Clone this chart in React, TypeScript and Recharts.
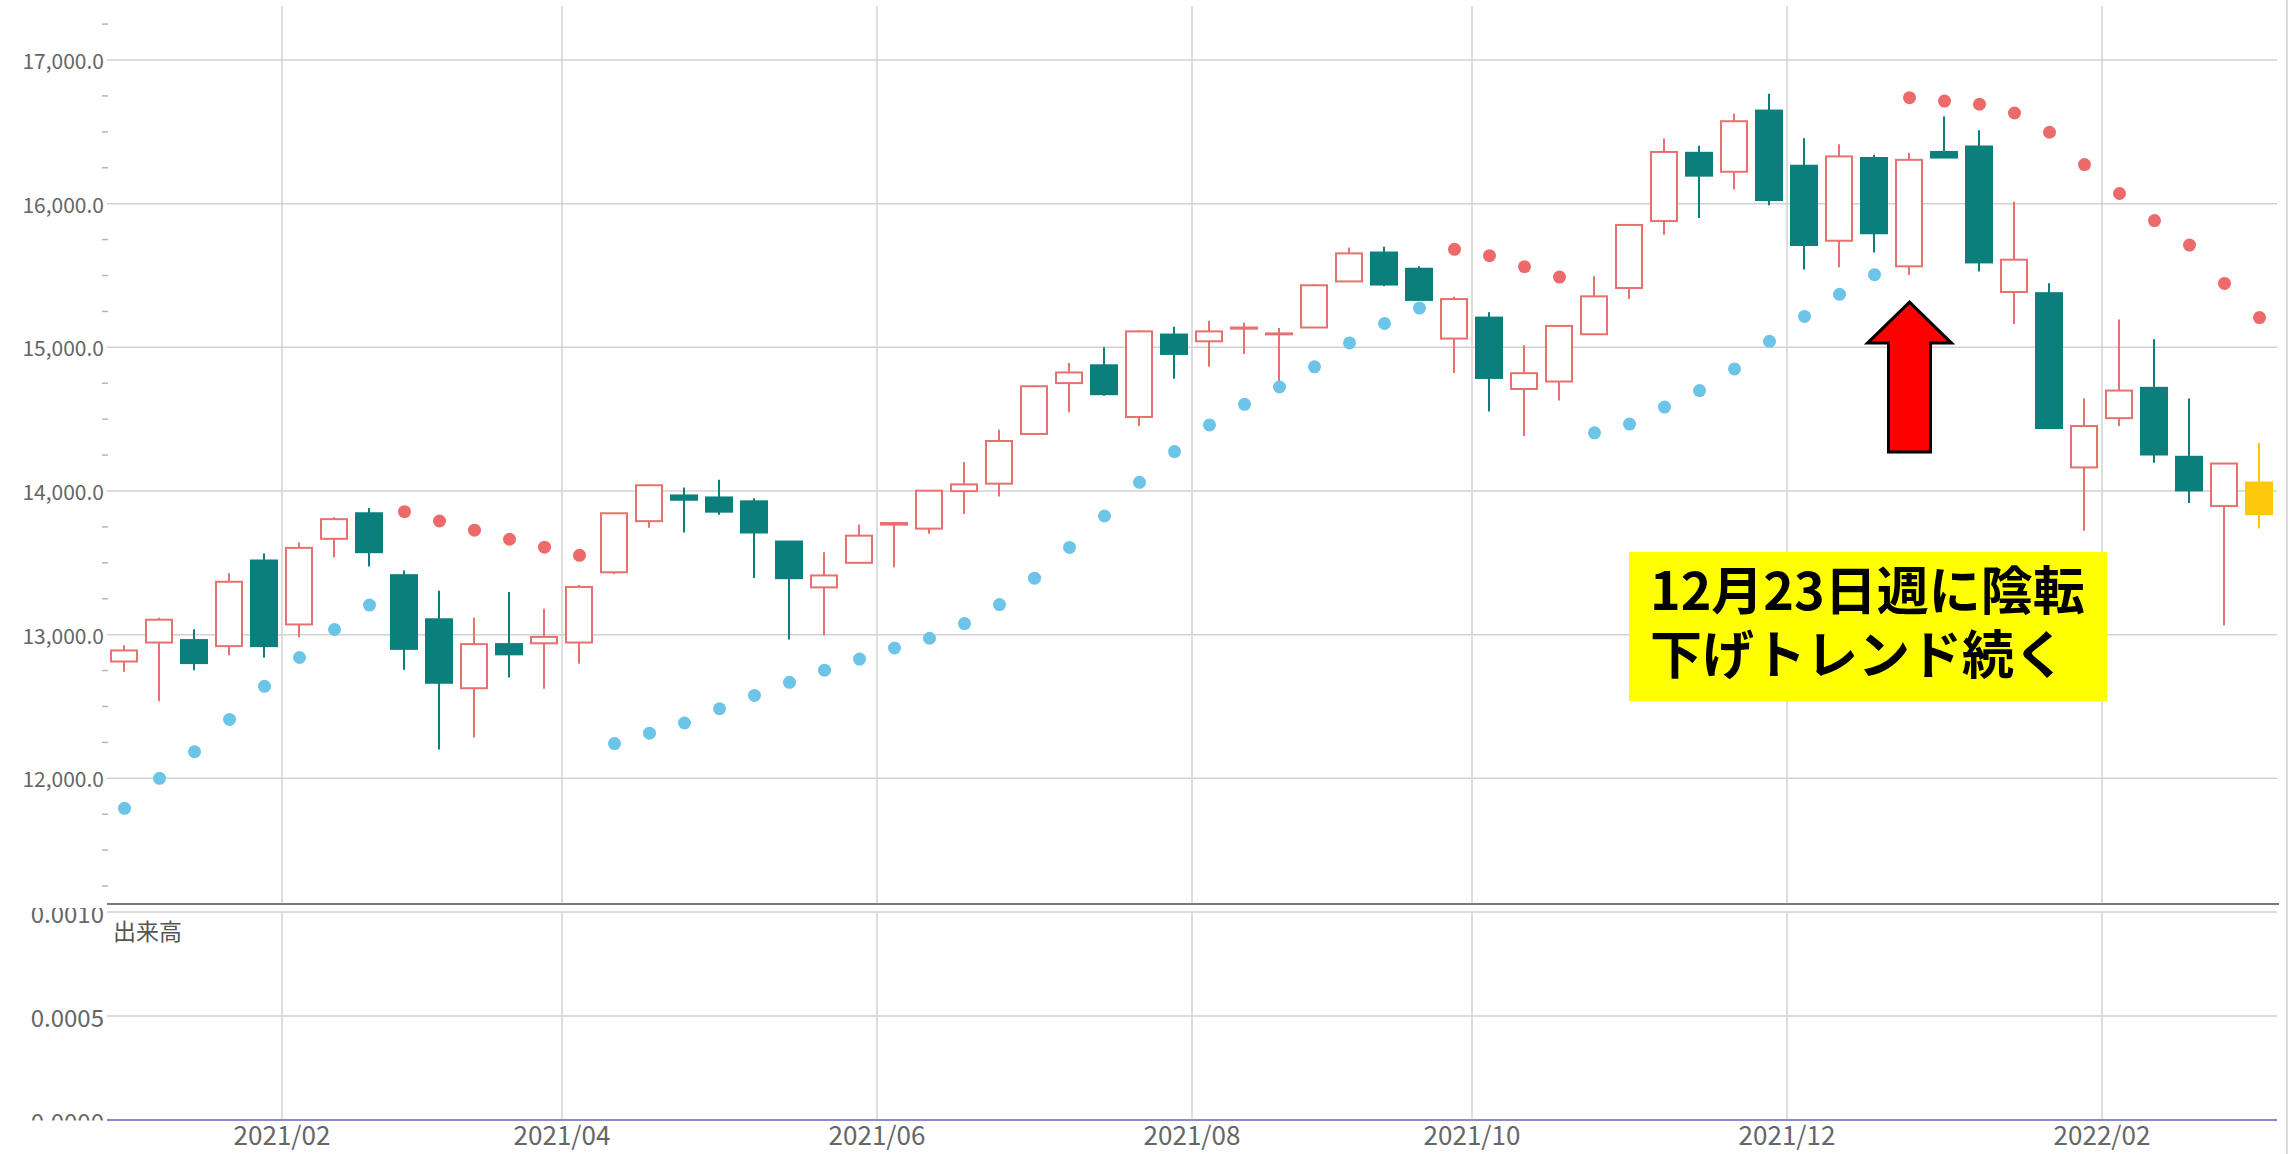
import React from "react"
import { Bar, CartesianGrid, ComposedChart, Line, ReferenceDot, XAxis, YAxis } from "recharts"

document.body.style.margin = "0"

// weekly bars, labelled by the Friday that closes the week
const weeks = [
  "2021/01/01", "2021/01/08", "2021/01/15", "2021/01/22", "2021/01/29",
  "2021/02/05", "2021/02/12", "2021/02/19", "2021/02/26", "2021/03/05",
  "2021/03/12", "2021/03/19", "2021/03/26", "2021/04/02", "2021/04/09",
  "2021/04/16", "2021/04/23", "2021/04/30", "2021/05/07", "2021/05/14",
  "2021/05/21", "2021/05/28", "2021/06/04", "2021/06/11", "2021/06/18",
  "2021/06/25", "2021/07/02", "2021/07/09", "2021/07/16", "2021/07/23",
  "2021/07/30", "2021/08/06", "2021/08/13", "2021/08/20", "2021/08/27",
  "2021/09/03", "2021/09/10", "2021/09/17", "2021/09/24", "2021/10/01",
  "2021/10/08", "2021/10/15", "2021/10/22", "2021/10/29", "2021/11/05",
  "2021/11/12", "2021/11/19", "2021/11/26", "2021/12/03", "2021/12/10",
  "2021/12/17", "2021/12/24", "2021/12/31", "2022/01/07", "2022/01/14",
  "2022/01/21", "2022/01/28", "2022/02/04", "2022/02/11", "2022/02/18",
  "2022/02/25", "2022/03/04",
]

const open = [
  12813, 12945, 12962, 12920, 13516, 13071, 13667, 13845, 13414, 13107,
  12627, 12934, 12940, 12945, 13434, 13790, 13969, 13955, 13928, 13648,
  13329, 13500, 13766, 13738, 13999, 14051, 14397, 14751, 14875, 14515,
  15089, 15042, 15130, 15091, 15138, 15459, 15660, 15547, 15061, 15207,
  14710, 14762, 15091, 15413, 15879, 16354, 16222, 16648, 16264, 15742,
  16318, 15564, 16360, 16398, 15385, 15377, 14164, 14507, 14718, 14238,
  13895, 14059,
]
const high = [
  12926, 13118, 13038, 13428, 13565, 13642, 13818, 13881, 13447, 13305,
  13118, 13296, 13181, 13346, 13845, 14046, 14024, 14079, 13950, 13648,
  13574, 13766, 13777, 14002, 14202, 14427, 14735, 14891, 15001, 15119,
  15144, 15185, 15171, 15135, 15440, 15695, 15701, 15564, 15352, 15245,
  15015, 15149, 15495, 15852, 16453, 16404, 16626, 16766, 16456, 16414,
  16340, 16354, 16607, 16511, 16014, 15446, 14644, 15193, 15056, 14644,
  14197, 14334,
]
const low = [
  12742, 12536, 12753, 12857, 12841, 12981, 13538, 13475, 12756, 12201,
  12284, 12701, 12624, 12797, 13423, 13744, 13711, 13834, 13395, 12967,
  12995, 13500, 13469, 13703, 13840, 13961, 14397, 14548, 14663, 14452,
  14782, 14864, 14954, 14754, 15138, 15459, 15426, 15330, 14822, 14553,
  14383, 14630, 15091, 15336, 15783, 15901, 16099, 15989, 15542, 15558,
  15660, 15503, 16321, 15528, 15163, 14438, 13724, 14452, 14197, 13917,
  13066, 13738,
]
const close = [
  12890, 13104, 12802, 13368, 12920, 13604, 13804, 13574, 12901, 12665,
  12934, 12863, 12984, 13332, 13845, 14040, 13939, 13856, 13711, 13393,
  13412, 13689, 13777, 14002, 14046, 14348, 14729, 14825, 14674, 15111,
  14954, 15111, 15138, 15097, 15432, 15654, 15437, 15330, 15336, 14787,
  14820, 15149, 15355, 15852, 16360, 16195, 16574, 16025, 15712, 16329,
  15794, 16305, 16321, 15591, 15610, 14438, 14452, 14699, 14254, 14004,
  14191, 13839,
]
// parabolic SAR
const sar = [
  11791, 12000, 12185, 12410, 12640, 12841, 13036, 13206, 13856, 13791,
  13727, 13664, 13609, 13552, 12242, 12314, 12385, 12484, 12577, 12668,
  12753, 12830, 12907, 12975, 13077, 13209, 13393, 13607, 13826, 14060,
  14274, 14460, 14603, 14724, 14864, 15031, 15166, 15273, 15682, 15638,
  15561, 15489, 14405, 14466, 14584, 14699, 14850, 15042, 15215, 15369,
  15506, 16738, 16714, 16692, 16631, 16497, 16272, 16071, 15882, 15712,
  15445, 15207,
]
// 出来高 (none reported)
const volume = [
  0, 0, 0, 0, 0, 0, 0, 0, 0, 0, 0, 0, 0, 0, 0, 0, 0, 0, 0, 0, 0,
  0, 0, 0, 0, 0, 0, 0, 0, 0, 0, 0, 0, 0, 0, 0, 0, 0, 0, 0, 0, 0,
  0, 0, 0, 0, 0, 0, 0, 0, 0, 0, 0, 0, 0, 0, 0, 0, 0, 0, 0, 0,
]

const priceTicks = [11250, 11500, 11750, 12000, 12250, 12500, 12750, 13000, 13250, 13500, 13750, 14000, 14250, 14500, 14750, 15000, 15250, 15500, 15750, 16000, 16250, 16500, 16750, 17000, 17250]
const priceGrid = [12000, 13000, 14000, 15000, 16000, 17000]
const volumeTicks = [0, 0.0005, 0.001]

const reversalWeek = "2021/12/24"
const arrowTip = 15315
const note = ["12月23日週に陰転", "下げトレンド続く"]

const RED = "#e8716f"
const TEAL = "#0b7f7c"
const GOLD = "#fdc70b"
const SAR_UP = "#6cc5e8"
const SAR_DOWN = "#ec6a6a"
const GRID = "#d2d2d2"
const FONT = '"Noto Sans CJK JP", "Noto Sans", sans-serif'

const data = weeks.map((week, i) => ({
  idx: i,
  week,
  open: open[i],
  high: high[i],
  low: low[i],
  close: close[i],
  range: [low[i], high[i]],
  sarUp: sar[i] < low[i] ? sar[i] : null,
  sarDown: sar[i] > high[i] ? sar[i] : null,
  volume: volume[i],
}))

// a grid line at the start of every even month
const monthTicks: number[] = []
weeks.forEach((w, i) => {
  if (i > 0 && w.slice(5, 7) !== weeks[i - 1].slice(5, 7) && Number(w.slice(5, 7)) % 2 === 0) {
    monthTicks.push(i - 0.5)
  }
})
const monthLabel = (v: number) => weeks[Math.round(v + 0.5)].slice(0, 7)
const xDomain = [-0.5, weeks.length - 0.5]

const Candle = (props: any) => {
  const { x, y, width, height, payload } = props
  const { open, close, high, low, idx } = payload
  const k = height / (high - low)
  const py = (v: number) => y + (high - v) * k
  const cx = x + width / 2
  const last = idx === weeks.length - 1
  const up = close >= open
  const color = last ? GOLD : up ? RED : TEAL
  const top = py(Math.max(open, close))
  const bot = py(Math.min(open, close))
  return (
    <g>
      <line x1={cx} x2={cx} y1={y} y2={y + height} stroke={color} strokeWidth={2} />
      {up && !last ? (
        <rect x={x + 1} y={top} width={width - 2} height={Math.max(bot - top, 1)} fill="#fff" stroke={RED} strokeWidth={2} />
      ) : (
        <rect x={x} y={top - 1} width={width} height={Math.max(bot - top, 1) + 2} fill={color} />
      )}
    </g>
  )
}

const sarDot = (color: string) => (p: any) =>
  p.cy == null || p.value == null ? (
    <g key={p.index} />
  ) : (
    <circle key={p.index} cx={p.cx} cy={p.cy} r={6.5} fill={color} />
  )

const PriceTick = (props: any) => {
  const { x, y, payload } = props
  const v = payload.value
  if (v % 1000 === 0) {
    return (
      <text x={x} y={y} textAnchor="end" dominantBaseline="central" fill="#666" fontSize={21} fontFamily={FONT}>
        {v.toLocaleString("en-US", { minimumFractionDigits: 1, maximumFractionDigits: 1 })}
      </text>
    )
  }
  return <line x1={x - 2} x2={x + 4} y1={y} y2={y} stroke="#b5b5b5" strokeWidth={1.5} />
}

const VolumeTick = (props: any) => {
  const { x, y, payload, index } = props
  const id = "volclip" + index
  return (
    <g>
      <defs>
        <clipPath id={id}>
          <rect x={0} y={4} width={x + 10} height={212.5} />
        </clipPath>
      </defs>
      <text x={x} y={y} textAnchor="end" dominantBaseline="central" fill="#666" fontSize={24} fontFamily={FONT} clipPath={`url(#${id})`}>
        {payload.value.toFixed(4)}
      </text>
    </g>
  )
}

const Arrow = (props: any) => {
  const { cx, cy } = props
  const pts = [
    [cx, cy], [cx + 42, cy + 41], [cx + 21, cy + 41], [cx + 21, cy + 150],
    [cx - 21, cy + 150], [cx - 21, cy + 41], [cx - 42, cy + 41],
  ]
  return <polygon points={pts.map((p) => p.join(",")).join(" ")} fill="#ff0000" stroke="#000" strokeWidth={3} />
}

export default function App() {
  return (
    <div style={{ position: "relative", width: 2295, height: 1154, background: "#fff", fontFamily: FONT, overflow: "hidden" }}>
      <div style={{ position: "absolute", left: 0, top: 0 }}>
        <ComposedChart width={2295} height={905} data={data} margin={{ top: 6, right: 18, bottom: 1, left: 0 }}>
          <CartesianGrid stroke={GRID} strokeWidth={1.5} horizontalValues={priceGrid} verticalValues={monthTicks} />
          <XAxis dataKey="idx" type="number" domain={xDomain} ticks={monthTicks} hide />
          <YAxis
            type="number"
            domain={[11125, 17376]}
            ticks={priceTicks}
            width={107}
            axisLine={false}
            tickLine={false}
            tickSize={0}
            tickMargin={3}
            interval={0}
            tick={<PriceTick />}
          />
          <Bar dataKey="range" barSize={28} shape={Candle} isAnimationActive={false} />
          <Line dataKey="sarUp" stroke="none" dot={sarDot(SAR_UP)} activeDot={false} isAnimationActive={false} />
          <Line dataKey="sarDown" stroke="none" dot={sarDot(SAR_DOWN)} activeDot={false} isAnimationActive={false} />
          <ReferenceDot x={weeks.indexOf(reversalWeek)} y={arrowTip} shape={Arrow} ifOverflow="visible" />
        </ComposedChart>
      </div>

      <div style={{ position: "absolute", left: 0, top: 904 }}>
        <ComposedChart width={2295} height={250} data={data} margin={{ top: 8, right: 18, bottom: 0, left: 0 }}>
          <CartesianGrid stroke={GRID} strokeWidth={1.5} horizontalValues={volumeTicks} verticalValues={monthTicks} />
          <XAxis
            dataKey="idx"
            type="number"
            domain={xDomain}
            ticks={monthTicks}
            tickFormatter={monthLabel}
            height={34}
            tickLine={false}
            tickSize={0}
            tickMargin={7}
            axisLine={{ stroke: "#8a8ad0", strokeWidth: 2 }}
            tick={{ fill: "#666", fontSize: 26, fontFamily: FONT }}
          />
          <YAxis
            type="number"
            domain={[0, 0.001]}
            ticks={volumeTicks}
            width={107}
            axisLine={false}
            tickLine={false}
            tickSize={0}
            tickMargin={3}
            interval={0}
            tick={<VolumeTick />}
          />
          <Bar dataKey="volume" barSize={28} fill="#7fa7d6" isAnimationActive={false} />
        </ComposedChart>
      </div>

      <div style={{ position: "absolute", left: 107, top: 903, width: 2172, height: 2, background: "#7a7a7a" }} />
      <div style={{ position: "absolute", left: 113, top: 916, fontSize: 23, lineHeight: "28px", color: "#555" }}>出来高</div>
      <div style={{ position: "absolute", left: 2286, top: 0, width: 2, height: 1154, background: "#dcdcdc" }} />

      <div
        style={{
          position: "absolute",
          left: 1629,
          top: 552,
          width: 478,
          height: 149,
          background: "#ffff00",
          boxSizing: "border-box",
          padding: "4px 0 0 21px",
          fontSize: 52,
          lineHeight: "64px",
          fontWeight: 700,
          color: "#000",
          whiteSpace: "nowrap",
        }}
      >
        {note.map((t) => (
          <div key={t}>{t}</div>
        ))}
      </div>
    </div>
  )
}
